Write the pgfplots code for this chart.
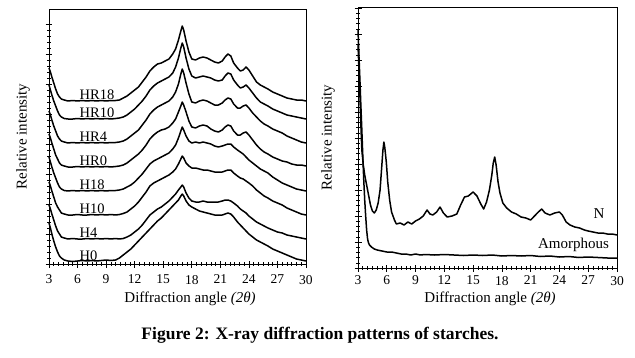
\documentclass[border=0pt]{standalone}
\usepackage{pgfplots}
\pgfplotsset{compat=1.18}
\usepackage{pgfplotstable}
\usepackage{fontspec}
\setmainfont{Liberation Serif}

% heights above each pattern's own baseline (left panel)
\pgfplotstableread{
x     hra  hrb  hrc  hrd  ha   hb   hc   hd
3.0   33   34   32   33   34   33   34   38
3.15  29   29   28   29   29   29   30   33
3.3   24   24   23   24   24   24   25   27
3.5   18   18   17   18   18   18   19   20
3.7   12   13   12   12   13   12   13   14
3.9   7    8    7    8    8    8    8    9
4.1   4    4    4    4    4    5    5    5
4.3   2    2    2    2    2    2    2    3
4.6   1    0.5  1    1    0.5  1    1    1
5.0   0    0    0    0    0    0    0    0
5.5   0.5  0    0.5  0    0.5  0    0.5  -0.5
6.0   0    0.5  0    0.5  0    0.5  0    0
6.5   0.5  0    0.5  0    0.5  0    0    0.5
7.0   0    0.5  0    0.5  0    0    0.5  0
7.5   0.5  0    0.5  0    0.5  0.5  0    0.5
8.0   0    0.5  0    0.5  0    0    0.5  0
8.5   0.5  0    0.5  0    0.5  0.5  0    0.5
9.0   0    0.5  0    0.5  0    0    0.5  1
9.5   0.5  0    0.5  0    0.5  0.5  0    0.5
10.0  0.5  0.5  0.5  0.5  0.5  0    0.5  1
10.4  1    1    1    1    1    0.5  0    3
10.8  3    2    2    2    2    1.5  0.5  6
11.2  5    4    4    4    4    3    2    9
11.6  8    7    7    7    6    6    4    12
12.0  11   10   10   10   9    9    7    16
12.4  14   14   13   13   13   13   10   20
12.8  19   18   18   17   17   18   14   24
13.2  24   23   23   22   22   23   19   28
13.6  30   29   29   28   27   29   24   32
14.0  34   33   33   32   30   32   27   36
14.4  37   36   36   35   32   34   30   40
14.8  38   38   38   37   34   36   32   43
15.2  40   40   40   38   36   38   35   47
15.6  42   42   42   40   38   40   38   51
16.0  47   46   46   44   42   43   42   55
16.3  52   52   51   48   46   46   45   58
16.6  61   61   59   55   53   51   49   61
16.85 70   71   69   61   60   56   52   65
17.0  75   76   74   65   64   59   54   67
17.15 71   72   70   62   61   57   52   65
17.4  60   61   60   55   55   52   46   60
17.7  49   50   49   46   50   49   41   56
18.0  42   43   41   40   48   47   38   54
18.4  41   41   40   39   49   47   37   52
18.8  43   42   42   41   48   46   37   50
19.2  44   43   43   42   49   45   38   49
19.6  43   42   42   41   48   45   37   48
20.0  41   41   40   38   47   44   37   47
20.4  39   39   38   36   45   43   37   46
20.8  38   38   38   35   44   43   37   46
21.2  40   39   40   37   45   43   38   46
21.5  44   43   43   40   46   44   39   47
21.8  47   46   45   42   47   45   39   48
22.1  45   45   44   41   47   45   38   47
22.4  38   39   39   36   44   42   36   44
22.8  33   34   35   32   41   39   33   39
23.1  30   31   35   32   39   37   30   36
23.4  31   32   37   34   37   36   28   33
23.7  34   34   38   35   34   34   26   30
24.0  31   31   35   32   31   32   23   27
24.4  25   26   30   27   28   29   20   24
24.8  19   21   26   22   25   25   17   21
25.2  16   17   22   18   22   22   15   19
25.6  14   15   19   15   20   19   13   17
26.0  12   13   17   13   18   17   11   15
26.5  9    10   14   10   14   14   9    12
27.0  7    8    12   8    11   12   7    10
27.5  5    6    10   6    8    10   6    8
28.0  3    4    7    5    6    7    4    6
28.5  2    3    5    3    4    5    3    4
29.0  1    2    3    2    2    3    2    2
29.5  1    1    1    2    1    1    1    1
30.0  0    0    0    1    0    0    0    0
}\leftdata

\pgfplotstableread{
x     y
3.0   223
3.1   198
3.2   173
3.3   143
3.4   118
3.55  103
3.7   93
3.9   83
4.1   73
4.3   63
4.5   57
4.7   55
4.9   58
5.1   65
5.3   78
5.45  98
5.6   118
5.7   126
5.8   120
5.95  106
6.1   86
6.3   68
6.5   56
6.8   48
7.0   44
7.4   45
7.8   43
8.2   46
8.6   44
9.0   47
9.4   49
9.8   52
10.2  58
10.5  54
10.8  53
11.2  56
11.55 61
11.9  55
12.3  51
12.8  52
13.3  54
13.7  63
14.1  71
14.5  72
15.0  76
15.4  72
15.8  64
16.1  59
16.4  66
16.7  78
16.95 93
17.1  105
17.25 111
17.4  103
17.6  86
17.8  75
18.1  65
18.5  60
19.0  56
19.5  54
20.0  51
20.5  50
21.0  48
21.4  52
21.8  56
22.15 59
22.5  55
23.0  53
23.5  55
24.0  56
24.3  53
24.7  46
25.1  43
25.6  41
26.1  40
26.6  38
27.0  37
27.5  36
28.0  35
28.5  35
29.0  34
29.5  34
30.0  33
}\ndata

\pgfplotstableread{
x     y
3.0   238
3.1   212
3.2   188
3.3   162
3.4   138
3.5   112
3.6   88
3.7   68
3.8   52
3.9   38
4.0   29
4.1   25
4.2   23
4.4   21
4.7   19
5.0   18
5.5   17
6.0   16
6.5   16
7.0   15
7.5   14
8.0   14
8.5   13
9.0   14
9.5   13
10    13.5
11    13
12    13.5
13    13
14    12.5
15    13
16    12.5
17    13
18    12
19    12.5
20    12
21    12.5
22    11.5
23    12
24    11
25    11.5
26    10.5
27    11
28    10.5
29    10
30    10
}\amdata

\pgfplotsset{
  xrd/.style={
    scale only axis,
    anchor=south west,
    xmin=3, xmax=30,
    xtick={3,6,...,30},
    minor x tick num=5,
    minor y tick num=4,
    yticklabels={},
    tick pos=left,
    tick align=center,
    major tick length=7pt,
    minor tick length=3.5pt,
    every tick/.style={black, line width=0.6pt},
    axis line style={line width=0.8pt},
    /pgf/number format/assume math mode=true,
    ticklabel style={font=\fontsize{13.5}{13.5}\selectfont},
    label style={font=\fontsize{15}{15}\selectfont},
    xlabel={Diffraction angle \textit{(2θ)}},
    ylabel={Relative intensity},
    cycle list={{black, solid}},
    no markers,
    every axis plot/.append style={line width=1.5pt, line join=round},
    clip=false,
  }
}

\begin{document}
\begin{tikzpicture}
\path[use as bounding box] (0pt,0pt) rectangle (635pt,357pt);

\begin{axis}[xrd,
  at={(49pt,93pt)}, width=257pt, height=255pt,
  ymin=0, ymax=255, ytick={0,30,...,240},
  xticklabel style={yshift=-4pt},
  xlabel style={at={(axis description cs:0.549,-0.135)}, anchor=center},
  ylabel style={at={(axis description cs:-0.101,0.5)}, anchor=center},
]
\addplot table[x=x, y expr=\thisrow{hra}+163] {\leftdata};
\addplot table[x=x, y expr=\thisrow{hrb}+145] {\leftdata};
\addplot table[x=x, y expr=\thisrow{hrc}+121] {\leftdata};
\addplot table[x=x, y expr=\thisrow{hrd}+97] {\leftdata};
\addplot table[x=x, y expr=\thisrow{ha}+73] {\leftdata};
\addplot table[x=x, y expr=\thisrow{hb}+49] {\leftdata};
\addplot table[x=x, y expr=\thisrow{hc}+25] {\leftdata};
\addplot table[x=x, y expr=\thisrow{hd}+3] {\leftdata};
\begin{scope}[font=\fontsize{14.5}{15}\selectfont]
\node[anchor=base west, inner sep=0pt] at (axis cs:6.2,165) {HR18};
\node[anchor=base west, inner sep=0pt] at (axis cs:6.2,147) {HR10};
\node[anchor=base west, inner sep=0pt] at (axis cs:6.2,123) {HR4};
\node[anchor=base west, inner sep=0pt] at (axis cs:6.2,99) {HR0};
\node[anchor=base west, inner sep=0pt] at (axis cs:6.2,74.5) {H18};
\node[anchor=base west, inner sep=0pt] at (axis cs:6.2,50.5) {H10};
\node[anchor=base west, inner sep=0pt] at (axis cs:6.2,26.5) {H4};
\node[anchor=base west, inner sep=0pt] at (axis cs:6.2,4) {H0};
\end{scope}
\end{axis}

\begin{axis}[xrd,
  at={(358pt,89pt)}, width=259pt, height=261pt,
  ymin=0, ymax=261, ytick={0,26,...,260},
  xticklabel style={yshift=-1pt},
  xlabel style={at={(axis description cs:0.51,-0.12)}, anchor=center},
  ylabel style={at={(axis description cs:-0.116,0.5)}, anchor=center},
]
\addplot table[x=x, y=y] {\ndata};
\addplot table[x=x, y=y] {\amdata};
\node[font=\fontsize{15}{15}\selectfont, anchor=center] at (axis cs:28.13,54.5) {N};
\node[font=\fontsize{15}{15}\selectfont, anchor=center] at (axis cs:25.47,23) {Amorphous};
\end{axis}

\node[font=\fontsize{17.5}{18}\selectfont\bfseries, anchor=center] at (320pt,22pt)
  {Figure 2: X-ray diffraction patterns of starches.};
\end{tikzpicture}
\end{document}
